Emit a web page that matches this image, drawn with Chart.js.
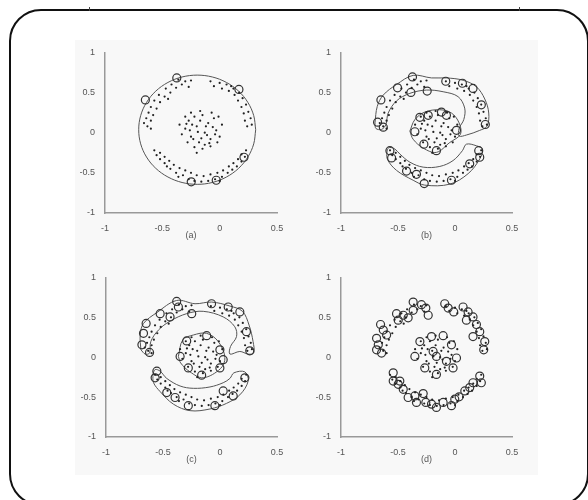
<!DOCTYPE html>
<html>
<head>
<meta charset="utf-8">
<script src="https://cdn.jsdelivr.net/npm/chart.js@4/dist/chart.umd.min.js"></script>
<style>
	body { margin: 0; width: 588px; height: 500px; background: #fff; overflow: hidden; position: relative; }
	#frame { position: absolute; left: 9px; top: 9px; width: 580px; height: 497px; box-sizing: border-box; border: 2px solid #111; border-radius: 32px; }
	#panel { position: absolute; left: 75px; top: 40px; width: 463px; height: 435px; background: #f8f8f8; }
	.mark { position: absolute; top: 7px; width: 1px; height: 4px; background: #444; }
	canvas { position: absolute; }
</style>
</head>
<body>
<div id="frame"></div>
<div class="mark" style="left:89px"></div>
<div class="mark" style="left:519px"></div>
<div id="panel"></div>
<canvas id="chartA" width="207" height="200" style="left:80px;top:45px"></canvas>
<canvas id="chartB" width="206" height="200" style="left:316px;top:45px"></canvas>
<canvas id="chartC" width="206" height="199" style="left:81px;top:270px"></canvas>
<canvas id="chartD" width="206" height="199" style="left:316px;top:270px"></canvas>
<script>
// sample points (same set in every panel)
var ringTop = [
	[-0.66,0.12],[-0.63,0.08],[-0.64,0.18],[-0.60,0.15],[-0.62,0.25],[-0.58,0.22],[-0.60,0.32],[-0.55,0.30],
	[-0.57,0.40],[-0.52,0.38],[-0.53,0.47],[-0.48,0.45],[-0.47,0.55],[-0.43,0.50],[-0.42,0.60],[-0.38,0.56],
	[-0.36,0.66],[-0.33,0.60],[-0.30,0.64],[-0.27,0.57],[-0.25,0.65],[-0.45,0.42],[-0.60,0.05],
	[-0.08,0.64],[-0.05,0.58],[0.00,0.62],[0.02,0.55],[0.06,0.60],[0.08,0.52],[0.12,0.55],[0.13,0.47],
	[0.17,0.50],[0.16,0.40],[0.20,0.43],[0.19,0.32],[0.23,0.35],[0.21,0.24],[0.25,0.26],[0.22,0.15],
	[0.27,0.18],[0.24,0.08],[0.28,0.10],[0.10,0.58]
];
var core = [
	[-0.30,0.05],[-0.27,0.15],[-0.25,-0.05],[-0.22,0.20],[-0.20,0.08],[-0.18,-0.12],[-0.15,0.22],[-0.13,0.00],
	[-0.10,0.12],[-0.08,-0.08],[-0.05,0.18],[-0.03,0.03],[0.00,-0.05],[-0.33,-0.02],[-0.28,-0.12],[-0.22,-0.18],
	[-0.15,-0.20],[-0.08,-0.17],[-0.02,-0.12],[0.02,0.10],[-0.01,0.20],[-0.07,0.25],[-0.17,0.27],[-0.25,0.25],
	[-0.30,0.20],[-0.35,0.10],[-0.24,0.10],[-0.17,0.15],[-0.12,0.08],[-0.19,0.01],[-0.26,0.03],[-0.11,-0.03],
	[-0.16,-0.07],[-0.23,-0.08],[-0.06,0.07],[-0.09,-0.13],[-0.20,-0.25],[-0.13,-0.15],[-0.04,-0.02],[-0.29,0.11]
];
var ringBottom = [
	[-0.57,-0.22],[-0.55,-0.28],[-0.52,-0.25],[-0.52,-0.33],[-0.48,-0.30],[-0.48,-0.38],[-0.44,-0.35],[-0.43,-0.45],
	[-0.40,-0.40],[-0.38,-0.50],[-0.35,-0.44],[-0.32,-0.53],[-0.30,-0.47],[-0.27,-0.58],[-0.25,-0.50],[-0.22,-0.60],
	[-0.20,-0.53],[-0.16,-0.61],[-0.14,-0.54],[-0.10,-0.60],[-0.08,-0.52],[-0.04,-0.58],[-0.02,-0.50],[0.02,-0.55],
	[0.03,-0.47],[0.07,-0.50],[0.08,-0.42],[0.11,-0.46],[0.12,-0.38],[0.15,-0.42],[0.16,-0.33],[0.19,-0.36],
	[0.19,-0.27],[0.22,-0.30],[0.23,-0.22],[-0.36,-0.55],[-0.46,-0.42],[0.00,-0.60]
];

// circled points per panel
var svA = [[-0.374,0.682],[-0.648,0.408],[0.168,0.539],[0.212,-0.306],[-0.030,-0.592],[-0.248,-0.612]];
var svB = [
	[-0.650,0.408],[-0.679,0.131],[-0.629,0.069],[-0.504,0.559],[-0.373,0.694],[-0.387,0.502],[-0.244,0.518],
	[-0.081,0.641],[0.065,0.616],[0.158,0.551],[0.231,0.347],[0.266,0.102],
	[-0.308,0.192],[-0.235,0.216],[-0.119,0.257],[-0.075,0.216],[0.013,0.029],[-0.352,0.012],[-0.273,-0.143],[-0.163,-0.224],
	[-0.571,-0.224],[-0.556,-0.314],[-0.425,-0.478],[-0.338,-0.518],[-0.270,-0.633],[-0.031,-0.592],[0.129,-0.388],[0.208,-0.224],[0.217,-0.306]
];
var svC = [
	[-0.648,0.423],[-0.671,0.299],[-0.685,0.155],[-0.618,0.060],[-0.525,0.546],[-0.438,0.505],[-0.380,0.699],
	[-0.365,0.629],[-0.248,0.546],[-0.074,0.670],[0.072,0.629],[0.174,0.567],[0.232,0.320],[0.261,0.080],
	[-0.292,0.204],[-0.117,0.270],[-0.001,0.093],[0.028,-0.031],[-0.001,-0.134],[-0.161,-0.225],[-0.278,-0.134],[-0.350,0.010],
	[-0.554,-0.175],[-0.569,-0.258],[-0.467,-0.443],[-0.394,-0.505],[-0.278,-0.608],[-0.045,-0.608],[0.028,-0.423],[0.116,-0.485],[0.218,-0.258]
];
var svD = [
	[-0.688,0.237],[-0.673,0.155],[-0.688,0.093],[-0.644,0.052],[-0.653,0.410],[-0.629,0.340],[-0.600,0.278],
	[-0.513,0.546],[-0.498,0.464],[-0.454,0.526],[-0.411,0.493],[-0.367,0.691],[-0.367,0.588],[-0.294,0.658],
	[-0.256,0.616],[-0.235,0.526],[-0.090,0.670],[-0.060,0.616],[-0.011,0.567],[0.071,0.629],[0.115,0.567],
	[0.158,0.505],[0.188,0.410],[0.217,0.320],[0.261,0.196],[0.252,0.093],[0.100,0.464],[0.158,0.258],
	[-0.308,0.196],[-0.206,0.258],[-0.104,0.270],[-0.031,0.155],[0.013,-0.010],[-0.017,-0.134],[-0.163,-0.216],
	[-0.265,-0.134],[-0.352,0.010],[-0.192,0.072],[-0.163,0.010],[-0.075,-0.052],
	[-0.542,-0.196],[-0.542,-0.299],[-0.498,-0.340],[-0.454,-0.402],[-0.411,-0.505],[-0.352,-0.485],[-0.279,-0.456],
	[-0.256,-0.567],[-0.206,-0.588],[-0.163,-0.629],[-0.104,-0.567],[-0.031,-0.608],[-0.002,-0.526],[0.036,-0.497],
	[0.086,-0.423],[0.129,-0.381],[0.158,-0.320],[0.217,-0.237],[0.231,-0.320],[-0.484,-0.299],[-0.338,-0.567]
];

// boundary lines
var edgeA = [
	[0.314,0.037],[0.297,0.213],[0.246,0.377],[0.165,0.518],[0.059,0.626],[-0.064,0.694],[-0.196,0.717],
	[-0.328,0.694],[-0.451,0.626],[-0.557,0.518],[-0.638,0.377],[-0.689,0.213],[-0.706,0.037],[-0.689,-0.139],
	[-0.638,-0.303],[-0.557,-0.444],[-0.451,-0.552],[-0.328,-0.620],[-0.196,-0.643],[-0.064,-0.620],[0.059,-0.552],
	[0.165,-0.444],[0.246,-0.303],[0.297,-0.139],[0.314,0.037]
];
var edgeBTop = [
	[-0.702,0.122],[-0.682,0.327],[-0.629,0.469],[-0.513,0.600],[-0.367,0.714],[-0.206,0.682],[-0.075,0.682],
	[0.071,0.653],[0.188,0.571],[0.261,0.420],[0.296,0.245],[0.281,0.082],[0.217,0.029],[0.100,-0.029],[0.036,-0.041],
	[0.036,0.053],[0.077,0.163],[0.085,0.306],[0.027,0.449],[-0.104,0.510],[-0.250,0.531],[-0.396,0.490],
	[-0.513,0.396],[-0.586,0.245],[-0.606,0.102],[-0.644,0.041],[-0.694,0.053],[-0.702,0.122]
];
var edgeBCore = [
	[-0.396,0.020],[-0.352,0.163],[-0.265,0.257],[-0.133,0.286],[-0.031,0.245],[0.036,0.122],[0.048,-0.020],
	[-0.046,-0.122],[-0.163,-0.245],[-0.279,-0.192],[-0.367,-0.082],[-0.396,0.020]
];
var edgeBBottom = [
	[-0.594,-0.204],[-0.594,-0.327],[-0.513,-0.469],[-0.367,-0.592],[-0.265,-0.653],[-0.046,-0.641],[0.115,-0.510],
	[0.217,-0.327],[0.240,-0.204],[0.188,-0.163],[0.100,-0.143],[0.065,-0.224],[-0.017,-0.347],[-0.133,-0.420],
	[-0.279,-0.429],[-0.396,-0.367],[-0.484,-0.265],[-0.527,-0.204],[-0.571,-0.184],[-0.594,-0.204]
];
var edgeCTop = [
	[-0.694,0.093],[-0.700,0.278],[-0.671,0.423],[-0.554,0.559],[-0.380,0.711],[-0.219,0.670],[-0.074,0.691],
	[0.087,0.641],[0.197,0.575],[0.255,0.402],[0.290,0.196],[0.296,0.052],[0.247,0.039],[0.174,0.072],[0.087,0.039],
	[0.092,0.134],[0.145,0.258],[0.130,0.381],[0.028,0.505],[-0.147,0.575],[-0.292,0.546],[-0.438,0.452],
	[-0.540,0.340],[-0.607,0.196],[-0.618,0.052],[-0.656,0.039],[-0.694,0.093]
];
var edgeCCore = [
	[-0.365,0.010],[-0.327,0.216],[-0.234,0.278],[-0.117,0.299],[-0.015,0.196],[0.043,-0.002],[0.005,-0.142],
	[-0.147,-0.258],[-0.263,-0.184],[-0.345,-0.072],[-0.365,0.010]
];
var edgeCBottom = [
	[-0.589,-0.216],[-0.569,-0.155],[-0.525,-0.175],[-0.467,-0.266],[-0.350,-0.361],[-0.234,-0.390],[-0.088,-0.373],
	[0.028,-0.320],[0.087,-0.266],[0.122,-0.196],[0.218,-0.184],[0.247,-0.299],[0.174,-0.472],[0.057,-0.579],
	[-0.088,-0.649],[-0.263,-0.670],[-0.409,-0.588],[-0.525,-0.431],[-0.583,-0.320],[-0.589,-0.216]
];

var xTicks = [-1, -0.5, 0, 0.5];
var yTicks = [-1, -0.5, 0, 0.5, 1];

function pts(arr) {
	return arr.map(p => ({x: p[0], y: p[1]}));
}

function lineSet(arr) {
	return {
		data: pts(arr), showLine: true, pointRadius: 0, borderColor: "#555",
		borderWidth: 1, tension: 0.35, fill: false
	};
}

function makePanel(id, label, circles, edges) {
	var sets = [
		{ data: pts(ringTop.concat(core, ringBottom)), pointRadius: 1.1, backgroundColor: "#222", borderWidth: 0 },
		{ data: pts(circles), pointRadius: 4, backgroundColor: "rgba(0,0,0,0)", borderColor: "#333", borderWidth: 1.2 }
	];
	edges.forEach(e => sets.push(lineSet(e)));

	var tickFont = { size: 9, family: "Liberation Sans" };

	return new Chart(id, {
		type: "scatter",
		data: { datasets: sets },
		options: {
			responsive: false,
			animation: false,
			events: [],
			layout: { padding: { left: 0, top: 5, right: 10, bottom: 0 } },
			plugins: { legend: { display: false }, tooltip: { enabled: false } },
			scales: {
				x: {
					min: -1, max: 0.5,
					afterBuildTicks: s => { s.ticks = xTicks.map(v => ({value: v})); },
					afterFit: s => { s.height = 32; },
					ticks: { font: tickFont, color: "#555", padding: 2, maxRotation: 0, callback: v => String(v) },
					grid: { display: false },
					border: { color: "#999", width: 1.5 },
					title: { display: true, text: label, font: tickFont, color: "#555", padding: { top: 2 } }
				},
				y: {
					min: -1, max: 1,
					afterBuildTicks: s => { s.ticks = yTicks.map(v => ({value: v})); },
					afterFit: s => { s.width = 25; },
					ticks: { font: tickFont, color: "#555", padding: 2, callback: v => String(v) },
					grid: { display: false },
					border: { color: "#999", width: 1.5 }
				}
			}
		}
	});
}

makePanel("chartA", "(a)", svA, [edgeA]);
makePanel("chartB", "(b)", svB, [edgeBTop, edgeBCore, edgeBBottom]);
makePanel("chartC", "(c)", svC, [edgeCTop, edgeCCore, edgeCBottom]);
makePanel("chartD", "(d)", svD, []);
</script>
</body>
</html>
